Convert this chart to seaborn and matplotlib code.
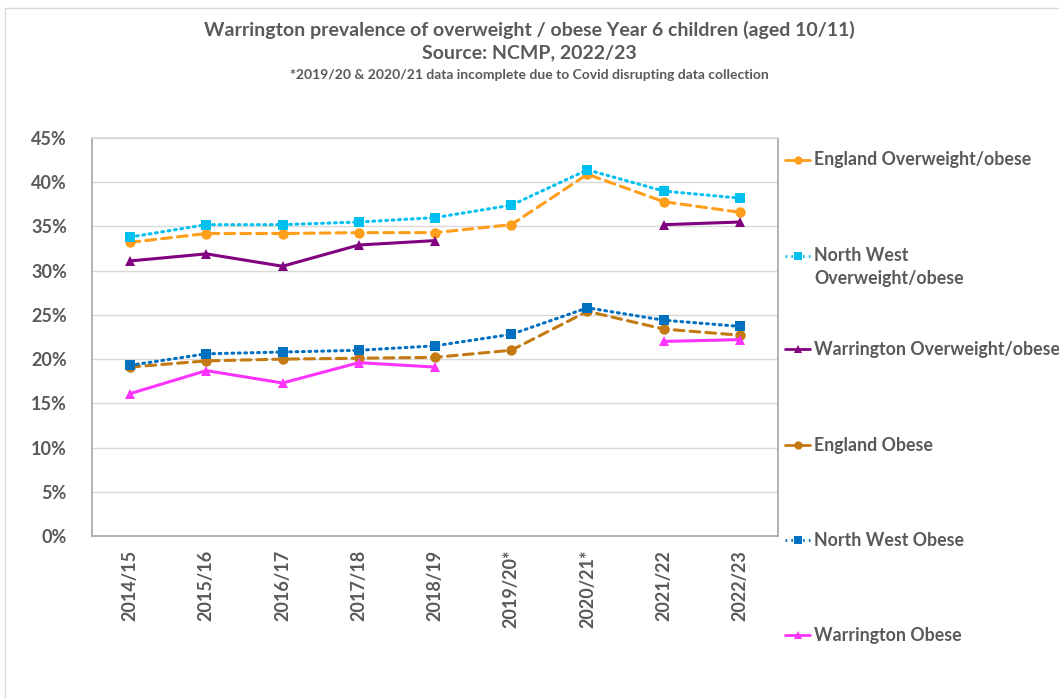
import numpy as np
import pandas as pd
import matplotlib
matplotlib.use("Agg")
import matplotlib.pyplot as plt
from matplotlib.lines import Line2D
from matplotlib.patches import Rectangle
import seaborn as sns

# School years and prevalence (%) for Year 6 children
years = ["2014/15", "2015/16", "2016/17", "2017/18", "2018/19",
         "2019/20*", "2020/21*", "2021/22", "2022/23"]
england_ow = [33.2, 34.2, 34.2, 34.3, 34.3, 35.2, 40.9, 37.8, 36.6]
northwest_ow = [33.8, 35.2, 35.2, 35.5, 36.0, 37.4, 41.4, 39.0, 38.2]
warrington_ow = [31.1, 31.9, 30.5, 32.9, 33.4, np.nan, np.nan, 35.2, 35.5]
england_ob = [19.1, 19.8, 20.0, 20.1, 20.2, 21.0, 25.4, 23.4, 22.7]
northwest_ob = [19.3, 20.6, 20.8, 21.0, 21.5, 22.8, 25.8, 24.4, 23.7]
warrington_ob = [16.1, 18.7, 17.3, 19.6, 19.1, np.nan, np.nan, 22.0, 22.2]
y_ticks = [0, 5, 10, 15, 20, 25, 30, 35, 40, 45]

series_names = ["England Overweight/obese", "North West\nOverweight/obese",
                "Warrington Overweight/obese", "England Obese",
                "North West Obese", "Warrington Obese"]

sns.set_theme(style="white")
plt.rcParams["font.family"] = ["Lato", "DejaVu Sans"]
plt.rcParams["font.weight"] = "bold"

TEXT = "#595959"
DASH = (0, (3.2, 2.0))
DOT = (0, (0.6, 1.5))

styles = [
    dict(color="#FF9E1B", ls=DASH, marker="o"),
    dict(color="#00C0F0", ls=DOT, marker="s"),
    dict(color="#800080", ls="-", marker="^"),
    dict(color="#C47A12", ls=DASH, marker="o"),
    dict(color="#0070C0", ls=DOT, marker="s"),
    dict(color="#FF33FF", ls="-", marker="^"),
]
values = [england_ow, northwest_ow, warrington_ow,
          england_ob, northwest_ob, warrington_ob]

fig = plt.figure(figsize=(10.59, 6.98), dpi=100)
ax = fig.add_axes([92 / 1059, 1 - 536 / 698, (778 - 92) / 1059, (536 - 138) / 698])

x = np.arange(len(years))
for vals, st in zip(values, styles):
    v = np.array(vals, dtype=float)
    # split into contiguous runs so gaps in the data stay as gaps
    seg = np.cumsum(np.isnan(v))
    df = pd.DataFrame({"x": x, "y": v, "seg": seg}).dropna()
    sns.lineplot(data=df, x="x", y="y", units="seg", estimator=None,
                 ax=ax, color=st["color"], linestyle=st["ls"],
                 linewidth=2.2, marker=st["marker"], markersize=7.5,
                 markeredgewidth=0, dash_capstyle="round", legend=False)

ax.set_xlim(-0.5, len(years) - 0.5)
ax.set_ylim(0, 45)
ax.set_xticks(x)
ax.set_yticks(y_ticks)
ax.set_xlabel("")
ax.set_ylabel("")
ax.grid(axis="y", color="#D9D9D9", linewidth=1.0)
ax.set_axisbelow(True)
for side in ["left", "right", "bottom"]:
    ax.spines[side].set_color("#A6A6A6")
    ax.spines[side].set_linewidth(1.2)
ax.spines["top"].set_color("#D9D9D9")
ax.tick_params(axis="both", length=0, labelcolor=TEXT)
ax.tick_params(axis="x", pad=10)
ax.tick_params(axis="y", pad=18)
ax.set_xticklabels(years, rotation=90, fontsize=13, fontweight="bold", color=TEXT)
ax.set_yticklabels([f"{t}%" for t in y_ticks], fontsize=13,
                   fontweight="bold", color=TEXT)

# Titles
fig.text(0.5, 1 - 30 / 698, "Warrington prevalence of overweight / obese Year 6 children (aged 10/11)",
         ha="center", va="center", fontsize=14, fontweight="bold", color=TEXT)
fig.text(0.5, 1 - 53 / 698, "Source: NCMP, 2022/23",
         ha="center", va="center", fontsize=14, fontweight="bold", color=TEXT)
fig.text(0.5, 1 - 75 / 698, "*2019/20 & 2020/21 data incomplete due to Covid disrupting data collection",
         ha="center", va="center", fontsize=10, fontweight="bold", color=TEXT)

# Legend entries down the right-hand side
leg_y = [160, 256, 349, 445, 540, 635]
for name, st, yy in zip(series_names, styles, leg_y):
    yf = 1 - yy / 698
    ls = "-" if st["ls"] == DASH else st["ls"]
    fig.add_artist(Line2D([785 / 1059, 810 / 1059], [yf, yf], transform=fig.transFigure,
                          color=st["color"], linestyle=ls, linewidth=2.0))
    fig.add_artist(Line2D([797.5 / 1059], [yf], transform=fig.transFigure,
                          color=st["color"], marker=st["marker"], markersize=6,
                          markeredgewidth=0, linestyle="none"))
    if "\n" in name:
        fig.text(814 / 1059, yf + 9 / 698, name, ha="left", va="top",
                 fontsize=12.8, fontweight="bold", color=TEXT, linespacing=1.45)
    else:
        fig.text(814 / 1059, yf, name, ha="left", va="center",
                 fontsize=12.8, fontweight="bold", color=TEXT)

# Chart border
fig.add_artist(Rectangle((5 / 1059, -0.05), 1.2, 1 - 8 / 698 + 0.05,
                         transform=fig.transFigure, fill=False,
                         edgecolor="#D9D9D9", linewidth=1.0))

fig.savefig("out.png", dpi=100)
